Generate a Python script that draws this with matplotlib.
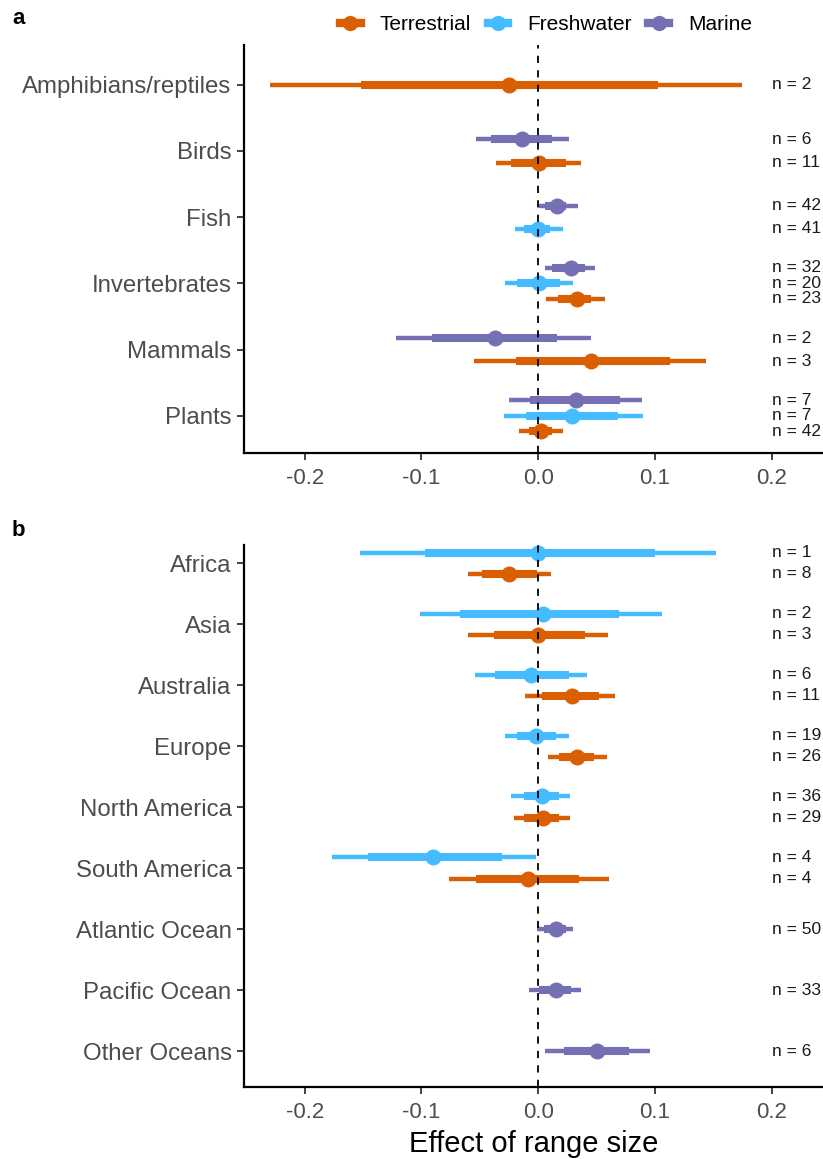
import matplotlib
matplotlib.use("Agg")
import matplotlib.pyplot as plt
from matplotlib.lines import Line2D

plt.rcParams['font.family'] = ['Liberation Sans', 'DejaVu Sans']

habitats = ["Terrestrial", "Freshwater", "Marine"]
colors = {"Terrestrial": "#D95F02", "Freshwater": "#45BCFF", "Marine": "#7570B3"}
stack_order = ["Marine", "Freshwater", "Terrestrial"]  # top to bottom within a group

# ---- Panel a: taxa ----
cats_a = ["Amphibians/reptiles", "Birds", "Fish", "Invertebrates", "Mammals", "Plants"]
a_cat = ["Amphibians/reptiles", "Birds", "Birds", "Fish", "Fish",
         "Invertebrates", "Invertebrates", "Invertebrates",
         "Mammals", "Mammals", "Plants", "Plants", "Plants"]
a_hab = ["Terrestrial", "Marine", "Terrestrial", "Marine", "Freshwater",
         "Marine", "Freshwater", "Terrestrial",
         "Marine", "Terrestrial", "Marine", "Freshwater", "Terrestrial"]
a_est = [-0.025, -0.014, 0.001, 0.016, 0.000, 0.028, 0.001, 0.033, -0.037, 0.045, 0.032, 0.029, 0.002]
a_lo95 = [-0.230, -0.053, -0.036, 0.001, -0.020, 0.006, -0.028, 0.007, -0.122, -0.055, -0.025, -0.029, -0.016]
a_lo66 = [-0.152, -0.040, -0.023, 0.006, -0.012, 0.012, -0.018, 0.017, -0.091, -0.019, -0.007, -0.010, -0.008]
a_hi66 = [0.103, 0.012, 0.024, 0.024, 0.010, 0.040, 0.019, 0.045, 0.016, 0.113, 0.070, 0.068, 0.012]
a_hi95 = [0.175, 0.026, 0.037, 0.034, 0.021, 0.049, 0.030, 0.057, 0.045, 0.144, 0.089, 0.090, 0.021]
a_n = [2, 6, 11, 42, 41, 32, 20, 23, 2, 3, 7, 7, 42]

# ---- Panel b: regions ----
cats_b = ["Africa", "Asia", "Australia", "Europe", "North America", "South America",
          "Atlantic Ocean", "Pacific Ocean", "Other Oceans"]
b_cat = ["Africa", "Africa", "Asia", "Asia", "Australia", "Australia",
         "Europe", "Europe", "North America", "North America",
         "South America", "South America", "Atlantic Ocean", "Pacific Ocean", "Other Oceans"]
b_hab = ["Freshwater", "Terrestrial", "Freshwater", "Terrestrial", "Freshwater", "Terrestrial",
         "Freshwater", "Terrestrial", "Freshwater", "Terrestrial",
         "Freshwater", "Terrestrial", "Marine", "Marine", "Marine"]
b_est = [0.000, -0.025, 0.004, 0.000, -0.006, 0.029, -0.002, 0.033, 0.003, 0.004, -0.090, -0.009, 0.015, 0.015, 0.050]
b_lo95 = [-0.153, -0.060, -0.101, -0.060, -0.054, -0.011, -0.028, 0.008, -0.023, -0.021, -0.177, -0.076, -0.001, -0.008, 0.006]
b_lo66 = [-0.097, -0.048, -0.067, -0.038, -0.037, 0.003, -0.018, 0.018, -0.012, -0.012, -0.146, -0.053, 0.005, 0.001, 0.022]
b_hi66 = [0.100, -0.001, 0.069, 0.040, 0.026, 0.052, 0.015, 0.048, 0.018, 0.018, -0.031, 0.035, 0.024, 0.028, 0.078]
b_hi95 = [0.152, 0.011, 0.106, 0.060, 0.042, 0.066, 0.026, 0.059, 0.027, 0.027, -0.002, 0.061, 0.030, 0.037, 0.096]
b_n = [1, 8, 2, 3, 6, 11, 19, 26, 36, 29, 4, 4, 50, 33, 6]

xticks = [-0.2, -0.1, 0.0, 0.1, 0.2]
xticklabels = ["-0.2", "-0.1", "0.0", "0.1", "0.2"]

W, H = 823, 1159
fig = plt.figure(figsize=(W / 100, H / 100), dpi=100)

def px_axes(left, top, right, bottom):
    return fig.add_axes([left / W, 1 - bottom / H, (right - left) / W, (bottom - top) / H])

def draw_panel(ax, cats, cat, hab, est, lo95, lo66, hi66, hi95, ns, ylim, dodge=0.7):
    pos = {c: i for i, c in enumerate(cats)}
    ys = []
    for i in range(len(cat)):
        members = [h for h in stack_order if any(cat[j] == cat[i] and hab[j] == h for j in range(len(cat)))]
        k = len(members)
        idx = members.index(hab[i])
        off = (idx - (k - 1) / 2) * dodge / k
        ys.append(pos[cat[i]] + off)
    ax.axvline(0, color="black", lw=1.3, ls=(0, (4, 4)), zorder=5)
    for i in range(len(cat)):
        c = colors[hab[i]]
        lc = ax.hlines(ys[i], lo95[i], hi95[i], color=c, lw=3.2, zorder=2)
        lc.set_capstyle("butt")
        lc = ax.hlines(ys[i], lo66[i], hi66[i], color=c, lw=5.8, zorder=3)
        lc.set_capstyle("butt")
        ax.plot(est[i], ys[i], "o", color=c, ms=11.5, mew=0, zorder=4)
        ax.text(0.2, ys[i], f"n = {ns[i]}", ha="left", va="center", fontsize=12.5,
                color="#1a1a1a")
    ax.set_yticks(range(len(cats)))
    ax.set_yticklabels(cats, fontsize=17.3, color="#4D4D4D")
    ax.set_ylim(*ylim)
    ax.set_xlim(-0.252, 0.244)
    ax.set_xticks(xticks)
    ax.set_xticklabels(xticklabels, fontsize=16, color="#4D4D4D")
    for s in ["top", "right"]:
        ax.spines[s].set_visible(False)
    for s in ["left", "bottom"]:
        ax.spines[s].set_linewidth(1.6)
    ax.tick_params(axis="both", length=5, width=1.3, colors="#333333", labelcolor="#4D4D4D")
    ax.tick_params(axis="x", pad=6)
    ax.tick_params(axis="y", pad=4)

ax_a = px_axes(244, 45, 823, 453)
draw_panel(ax_a, cats_a, a_cat, a_hab, a_est, a_lo95, a_lo66, a_hi66, a_hi95, a_n,
           ylim=(5.56, -0.6))
ax_b = px_axes(244, 545, 823, 1087)
draw_panel(ax_b, cats_b, b_cat, b_hab, b_est, b_lo95, b_lo66, b_hi66, b_hi95, b_n,
           ylim=(8.59, -0.3))
ax_b.set_xlabel("Effect of range size", fontsize=21, color="black", labelpad=5)

fig.text(12 / W, 1 - 18 / H, "a", fontsize=16, fontweight="bold", ha="left", va="center")
fig.text(12 / W, 1 - 530 / H, "b", fontsize=16, fontweight="bold", ha="left", va="center")

handles = [Line2D([0], [0], color=colors[h], marker="o", ms=11, lw=6, mew=0) for h in habitats]
fig.legend(handles, habitats, loc="center", bbox_to_anchor=(546 / W, 1 - 25 / H), ncol=3,
           frameon=False, fontsize=15, handlelength=1.0, handletextpad=0.9, columnspacing=0.8)

fig.savefig("out.png", dpi=100)
